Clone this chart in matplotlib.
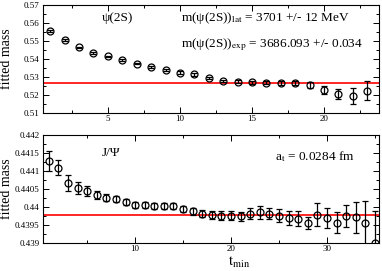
import numpy as np
import matplotlib
matplotlib.use("Agg")
import matplotlib.pyplot as plt
from matplotlib.ticker import MultipleLocator

plt.rcParams['font.family'] = ['Liberation Serif', 'DejaVu Serif']
plt.rcParams['mathtext.fontset'] = 'stix'

# psi(2S) effective mass fits
t_psi = np.arange(1, 24)
m_psi = [0.5557, 0.5507, 0.5464, 0.5434, 0.5414, 0.5393, 0.5375, 0.5356,
         0.5338, 0.5325, 0.5314, 0.5295, 0.5278, 0.5275, 0.5270, 0.5269,
         0.5268, 0.5268, 0.5256, 0.5228, 0.5206, 0.5195, 0.5225]
e_psi = [0.0006, 0.0005, 0.0005, 0.0005, 0.0005, 0.0005, 0.0005, 0.0005,
         0.0006, 0.0006, 0.0006, 0.0007, 0.0007, 0.0008, 0.0009, 0.0009,
         0.0010, 0.0012, 0.0018, 0.0020, 0.0030, 0.0043, 0.0054]
fit_psi = 0.5266

# J/psi effective mass fits
t_jpsi = np.arange(1, 36)
m_jpsi = [0.44128, 0.44109, 0.44067, 0.44053, 0.44045, 0.44033, 0.44026,
          0.44022, 0.44014, 0.44006, 0.44005, 0.44002, 0.44002, 0.44003,
          0.43994, 0.43988, 0.43982, 0.43978, 0.43976, 0.43976, 0.43974,
          0.43982, 0.43985, 0.43982, 0.43976, 0.43970, 0.43968, 0.43956,
          0.43979, 0.43970, 0.43957, 0.43976, 0.43972, 0.43956, 0.43900]
e_jpsi = [0.00028, 0.00021, 0.00022, 0.00017, 0.00014, 0.00011, 0.00009,
          0.00009, 0.00008, 0.00008, 0.00008, 0.00008, 0.00008, 0.00009,
          0.00009, 0.00010, 0.00010, 0.00011, 0.00012, 0.00013, 0.00013,
          0.00016, 0.00017, 0.00014, 0.00018, 0.00020, 0.00020, 0.00016,
          0.00031, 0.00028, 0.00030, 0.00031, 0.00043, 0.00060, 0.00090]
fit_jpsi = 0.43978

fig = plt.figure(figsize=(3.82, 2.71), dpi=100)
ax1 = fig.add_axes([0.1126, 0.583, 0.879, 0.3985])
ax2 = fig.add_axes([0.1126, 0.103, 0.879, 0.399])

for ax, t, m, e, fit in [(ax1, t_psi, m_psi, e_psi, fit_psi),
                         (ax2, t_jpsi, m_jpsi, e_jpsi, fit_jpsi)]:
    ax.axhline(fit, color='#ff0000', lw=1.2, zorder=1)
    ax.errorbar(t, m, yerr=e, fmt='o', mfc='none', mec='black', mew=0.9,
                ms=5, ecolor='black', elinewidth=0.9, capsize=2.5,
                capthick=0.9, zorder=3, clip_on=True)
    ax.tick_params(which='both', direction='in', top=True, right=True,
                   labelsize=6.5, width=0.7)
    ax.tick_params(axis='x', pad=1.5)
    ax.tick_params(axis='y', pad=2.5)
    ax.tick_params(which='major', length=4)
    ax.tick_params(which='minor', length=2)
    for s in ax.spines.values():
        s.set_linewidth(0.8)
    ax.set_ylabel('fitted mass', fontsize=10)
    ax.yaxis.set_label_coords(-0.088, 0.5)

ax1.set_xlim(0.5, 23.8)
ax1.set_ylim(0.51, 0.57)
ax1.xaxis.set_major_locator(MultipleLocator(5))
ax1.xaxis.set_minor_locator(MultipleLocator(2.5))
ax1.yaxis.set_major_locator(MultipleLocator(0.01))
ax1.yaxis.set_minor_locator(MultipleLocator(0.005))
ax1.set_yticklabels([f'{v:g}' for v in ax1.get_yticks()])

ax2.set_xlim(0.4, 35.4)
ax2.set_ylim(0.439, 0.442)
ax2.xaxis.set_major_locator(MultipleLocator(10))
ax2.xaxis.set_minor_locator(MultipleLocator(5))
ax2.yaxis.set_major_locator(MultipleLocator(0.0005))
ax2.yaxis.set_minor_locator(MultipleLocator(0.00025))
ax2.set_yticklabels([f'{v:g}' for v in ax2.get_yticks()])
ax2.set_xlabel(r'$\mathrm{t}_{\mathrm{min}}$', fontsize=10.5)
ax2.xaxis.set_label_coords(0.585, -0.11)

ax1.text(0.175, 0.88, 'ψ(2S)', transform=ax1.transAxes, fontsize=9.5,
         va='center')
ax1.text(0.41, 0.88, r'm(ψ(2S))$_{\mathrm{lat}}$ = 3701 +/- 12 MeV',
         transform=ax1.transAxes, fontsize=9.5, va='center')
ax1.text(0.41, 0.63, r'm(ψ(2S))$_{\mathrm{exp}}$ = 3686.093 +/- 0.034',
         transform=ax1.transAxes, fontsize=9.5, va='center')
ax2.text(0.175, 0.83, 'J/Ψ', transform=ax2.transAxes, fontsize=9.5,
         va='center')
ax2.text(0.69, 0.80, r'a$_{\mathrm{t}}$ = 0.0284 fm', transform=ax2.transAxes,
         fontsize=9.5, va='center')

fig.savefig('out.png', dpi=100)
